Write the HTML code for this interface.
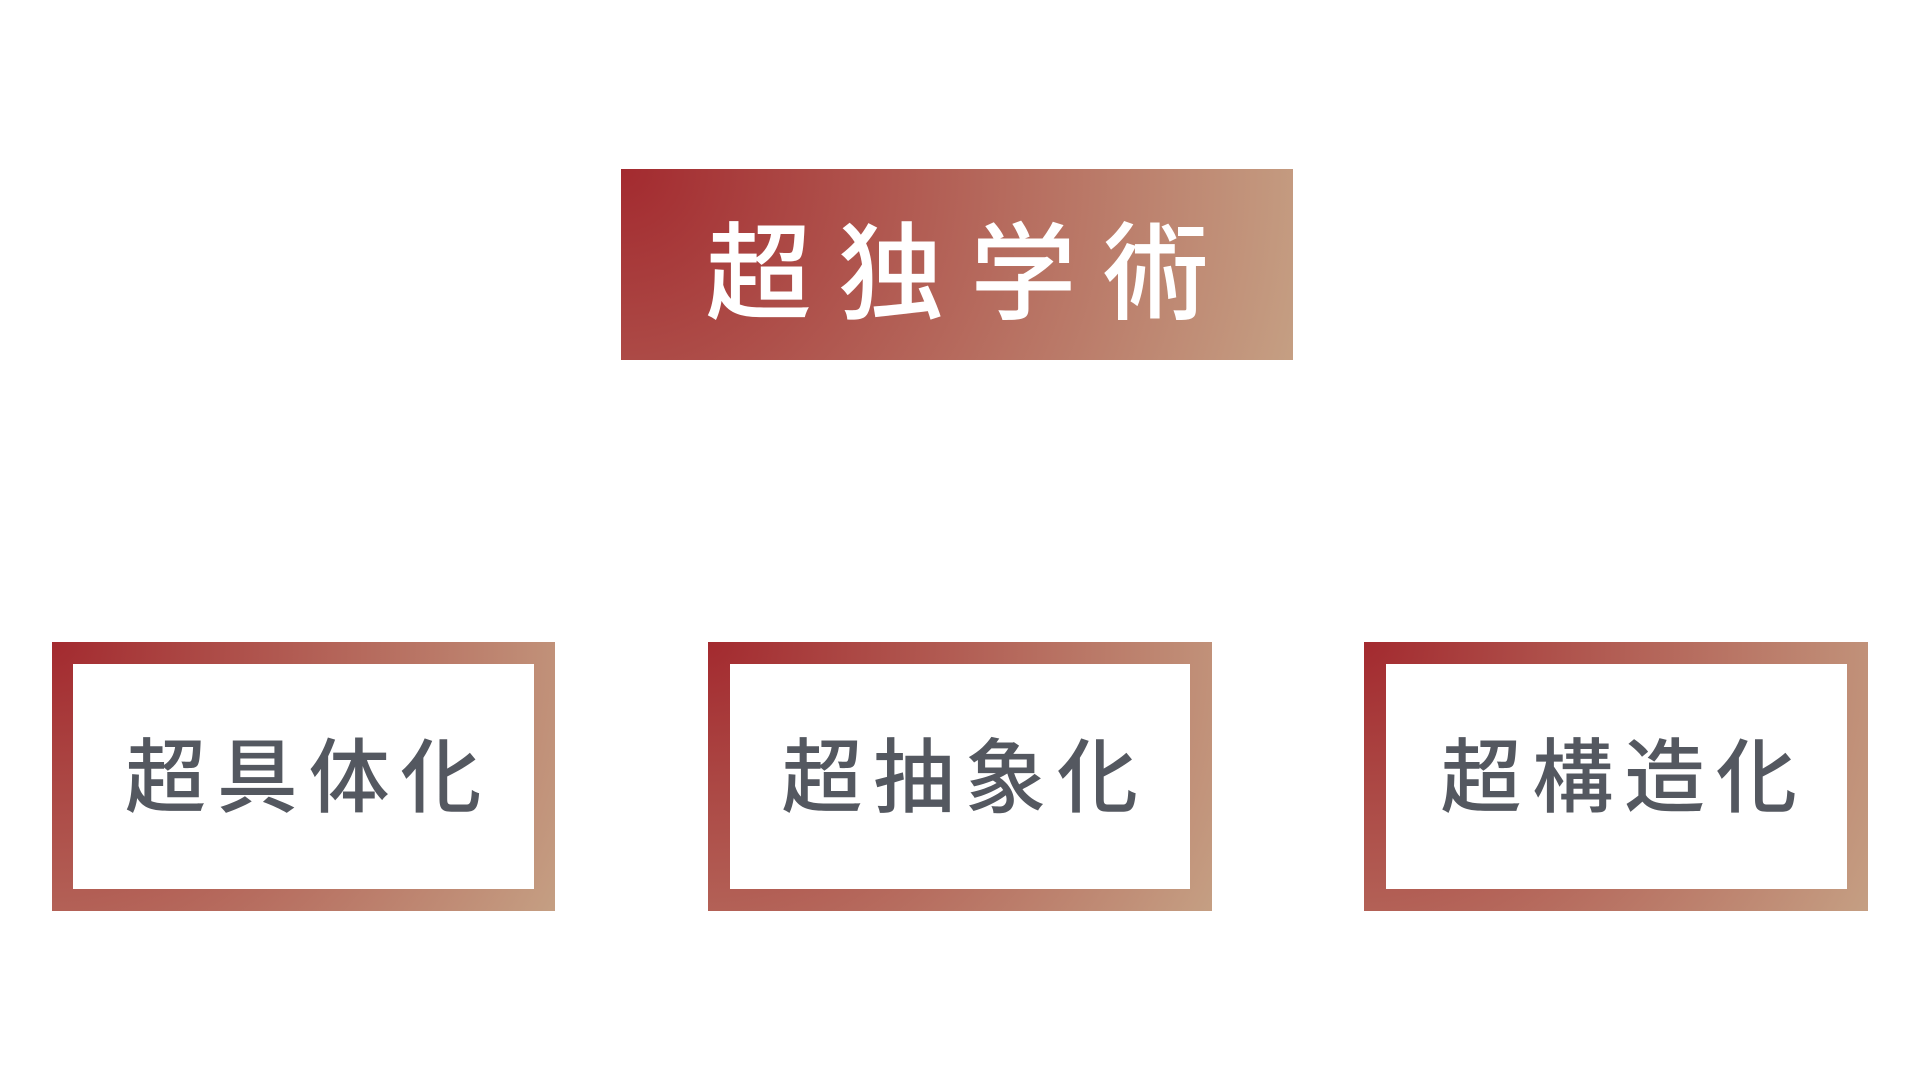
<!DOCTYPE html>
<html lang="ja">
<head>
<meta charset="utf-8">
<title>超独学術</title>
<style>
html,body{margin:0;padding:0;width:1920px;height:1080px;background:#fff;overflow:hidden}
body{position:relative;font-family:"Liberation Sans","Noto Sans CJK JP",sans-serif}
.g{position:absolute;background:radial-gradient(circle farthest-corner at 0 0,#a32a2f 0%,#c59f83 100%)}
.i{position:absolute;background:#fff}
.t{position:absolute;white-space:nowrap;line-height:1}
.top{left:705.5px;top:222px;font-size:106px;letter-spacing:26.4px;color:#fff;font-weight:500}
.sub{top:739px;font-size:81px;letter-spacing:10.8px;color:#545860;font-weight:500}
</style>
</head>
<body>
<div class="g" style="left:621px;top:169px;width:672px;height:191px"></div>
<div class="t top">超独学術</div>

<div class="g" style="left:51.5px;top:642px;width:503.5px;height:269px"></div>
<div class="i" style="left:73px;top:664px;width:460.5px;height:225px"></div>
<div class="t sub" style="left:125px">超具体化</div>

<div class="g" style="left:708px;top:642px;width:504px;height:269px"></div>
<div class="i" style="left:730px;top:664px;width:460px;height:225px"></div>
<div class="t sub" style="left:781.5px">超抽象化</div>

<div class="g" style="left:1364px;top:642px;width:504px;height:269px"></div>
<div class="i" style="left:1386px;top:664px;width:460.5px;height:225px"></div>
<div class="t sub" style="left:1440.5px">超構造化</div>
</body>
</html>
